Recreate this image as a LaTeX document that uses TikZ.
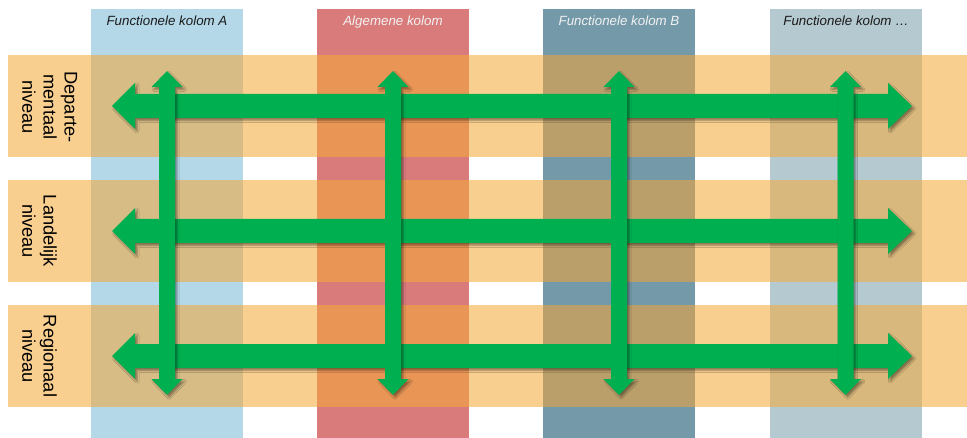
\documentclass[tikz,border=0pt]{standalone}
\usepackage{fontspec}
\setmainfont{Liberation Sans}
\usetikzlibrary{shadows.blur}
\definecolor{band}{HTML}{F9CF90}
\definecolor{colA}{HTML}{B4D8E8}
\definecolor{colAo}{HTML}{D8BC85}
\definecolor{colAlg}{HTML}{D97B7B}
\definecolor{colAlgo}{HTML}{E89555}
\definecolor{colB}{HTML}{7499A8}
\definecolor{colBo}{HTML}{BB9F6B}
\definecolor{colD}{HTML}{B5C9D0}
\definecolor{colDo}{HTML}{D8B87C}
\definecolor{arrgreen}{HTML}{00AF50}
\definecolor{darktxt}{HTML}{1A1A1A}
\definecolor{lighttxt}{HTML}{F2F2F2}
\begin{document}
\begin{tikzpicture}[x=0.75pt,y=-0.75pt,
  arrowfill/.style={fill=arrgreen,blur shadow={shadow xshift=1.6pt,shadow yshift=-1.8pt,shadow blur radius=1.4pt,shadow opacity=40}},
  colhead/.style={font=\itshape\fontsize{10}{12}\selectfont,inner sep=0pt,anchor=base},
  lvl/.style={font=\fontsize{13.7}{15.8}\selectfont,rotate=-90,anchor=south,align=center,inner sep=0pt,text=black}]
\useasboundingbox (0,0) rectangle (967,438);
% columns
\foreach \x/\c in {91/colA,317/colAlg,543/colB,770/colD}
  \fill[\c] (\x,9) rectangle ++(152,429);
% level bands
\foreach \y in {55,180,305}
  \fill[band] (8,\y) rectangle (967,\y+102);
% overlaps
\foreach \x/\c in {91/colAo,317/colAlgo,543/colBo,770/colDo}
  \foreach \y in {55,180,305}
    \fill[\c] (\x,\y) rectangle ++(152,102);
% column headers
\node[colhead,text=darktxt] (hA) at (167,26) {Functionele kolom A};
\node[colhead,text=lighttxt] (hAlg) at (393,26) {Algemene kolom};
\node[colhead,text=lighttxt] (hB) at (619,26) {Functionele kolom B};
\node[colhead,text=darktxt] (hD) at (846,26) {Functionele kolom …};
% level labels
\node[lvl] (l1) at (22,107) {Departe-\\mentaal\\niveau};
\node[lvl] (l2) at (22,231) {Landelijk\\niveau};
\node[lvl] (l3) at (22,356) {Regionaal\\niveau};
% horizontal double arrows
\foreach \c in {106,231,356}{
  \path[arrowfill] (112,\c) -- (135,\c-23) -- (135,\c-12) -- (888,\c-12) -- (888,\c-23)
    -- (912,\c) -- (888,\c+23) -- (888,\c+12) -- (135,\c+12) -- (135,\c+23) -- cycle;
}
% vertical double arrows
\foreach \m in {167,393,619,845.5}{
  \path[arrowfill] (\m,71) -- (\m+15.5,87) -- (\m+8,87) -- (\m+8,379) -- (\m+15.5,379)
    -- (\m,395) -- (\m-15.5,379) -- (\m-8,379) -- (\m-8,87) -- (\m-15.5,87) -- cycle;
}
\end{tikzpicture}
\end{document}
